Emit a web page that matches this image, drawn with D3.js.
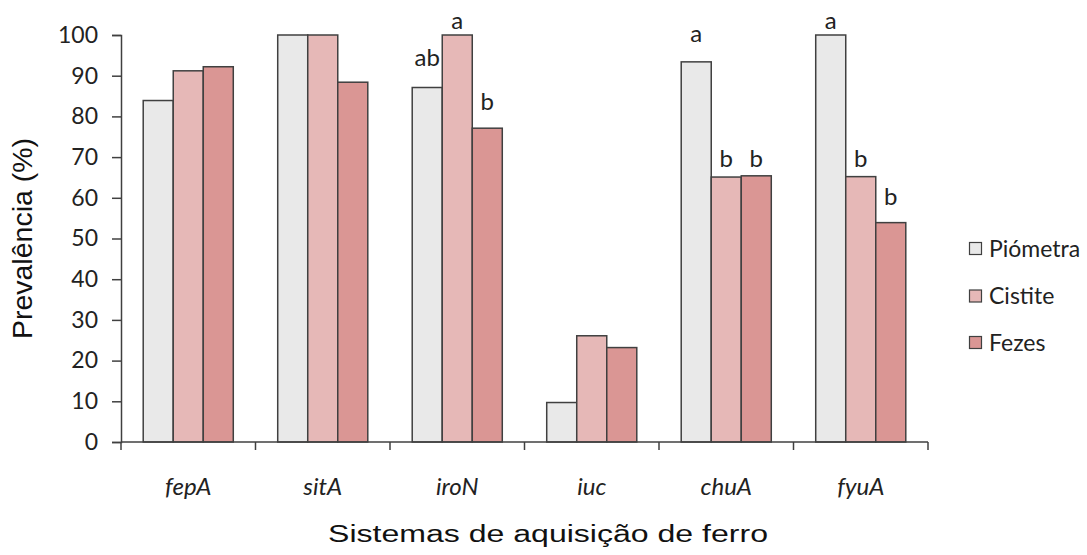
<!DOCTYPE html>
<html><head><meta charset="utf-8">
<script src="https://cdn.jsdelivr.net/npm/d3@7"></script>
<style>body{margin:0;background:#fff}</style>
</head><body>
<svg id="c" width="1087" height="555"></svg>
<script>
const categories = ["fepA","sitA","iroN","iuc","chuA","fyuA"];
const seriesNames = ["Piómetra","Cistite","Fezes"];
const piometra = [83.9, 100, 87.1, 9.7, 93.4, 100];
const cistite  = [91.2, 100, 100, 26.1, 65.1, 65.2];
const fezes    = [92.2, 88.4, 77.1, 23.2, 65.4, 53.9];
const colors = ["#e9e9e9","#e6b8b7","#da9694"];
const yTicks = [0,10,20,30,40,50,60,70,80,90,100];
// significance letters: category, series index, letter, baseline value (data units)
const letters = [
  ["iroN",0,"ab",92.5],["iroN",1,"a",101.5],["iroN",2,"b",81.6],
  ["chuA",0,"a",98.3],["chuA",1,"b",67.6],["chuA",2,"b",67.6],
  ["fyuA",0,"a",101.5],["fyuA",1,"b",67.6],["fyuA",2,"b",58.2]
];
const series = [piometra, cistite, fezes];

const font = "Lato, 'Open Sans', sans-serif";
const svg = d3.select("#c");
const x0 = d3.scaleBand().domain(categories).range([121, 928]).paddingInner(0).paddingOuter(0);
const x1 = d3.scaleBand().domain(d3.range(3)).range([0, x0.bandwidth()]).paddingOuter(0.74).paddingInner(0);
const y = d3.scaleLinear().domain([0,100]).range([442, 35]);
const stroke = "#404040";

// bars
categories.forEach((c,ci)=>{
  series.forEach((s,si)=>{
    svg.append("rect")
      .attr("x", x0(c)+x1(si)).attr("y", y(s[ci]))
      .attr("width", x1.bandwidth()).attr("height", y(0)-y(s[ci]))
      .attr("fill", colors[si]).attr("stroke", stroke).attr("stroke-width",1.5);
  });
});

// y axis
const yAxis = svg.append("g").attr("transform","translate(121,0)")
  .call(d3.axisLeft(y).tickValues(yTicks).tickSize(9).tickPadding(14));
yAxis.select(".domain").attr("stroke",stroke).attr("stroke-width",1.5);
yAxis.selectAll(".tick line").attr("stroke",stroke).attr("stroke-width",1.5);
yAxis.selectAll(".tick text").attr("font-family",font).attr("font-size",23).attr("fill","#222");

// x axis line and ticks at band boundaries
svg.append("line").attr("x1",121).attr("x2",928).attr("y1",y(0)).attr("y2",y(0)).attr("stroke",stroke).attr("stroke-width",1.5);
const bounds = categories.map(c=>x0(c)).concat([x0(categories[categories.length-1])+x0.bandwidth()]);
svg.selectAll(".xt").data(bounds).enter().append("line")
  .attr("x1",d=>d).attr("x2",d=>d).attr("y1",y(0)).attr("y2",y(0)+8)
  .attr("stroke",stroke).attr("stroke-width",1.5);
svg.selectAll(".xl").data(categories).enter().append("text")
  .attr("x",d=>x0(d)+x0.bandwidth()/2).attr("y",495)
  .attr("text-anchor","middle").attr("font-family",font)
  .attr("font-style","italic").attr("font-size",24).attr("fill","#222").text(d=>d);

// letters
letters.forEach(([c,si,t,v])=>{
  svg.append("text").attr("x", x0(c)+x1(si)+x1.bandwidth()/2).attr("y", y(v))
    .attr("text-anchor","middle").attr("font-family",font)
    .attr("font-size",24).attr("fill","#222").text(t);
});

// axis titles
svg.append("text").attr("transform","translate(32,238.5) rotate(-90)")
  .attr("text-anchor","middle").attr("font-family","'Liberation Sans', Arial, sans-serif")
  .attr("font-size",28.5).attr("fill","#111").text("Prevalência (%)");
svg.append("text").attr("x",328).attr("y",542)
  .attr("textLength",440).attr("lengthAdjust","spacingAndGlyphs")
  .attr("font-family","'Liberation Sans', Arial, sans-serif")
  .attr("font-size",23).attr("fill","#111").text("Sistemas de aquisição de ferro");

// legend
const legY = [248.5, 296, 342.5];
seriesNames.forEach((n,i)=>{
  svg.append("rect").attr("x",969.5).attr("y",legY[i]-6).attr("width",12).attr("height",12)
    .attr("fill",colors[i]).attr("stroke",stroke).attr("stroke-width",1.2);
  svg.append("text").attr("x",989).attr("y",legY[i]+8)
    .attr("font-family",font).attr("font-size",23).attr("fill","#222").text(n);
});
</script>
</body></html>
